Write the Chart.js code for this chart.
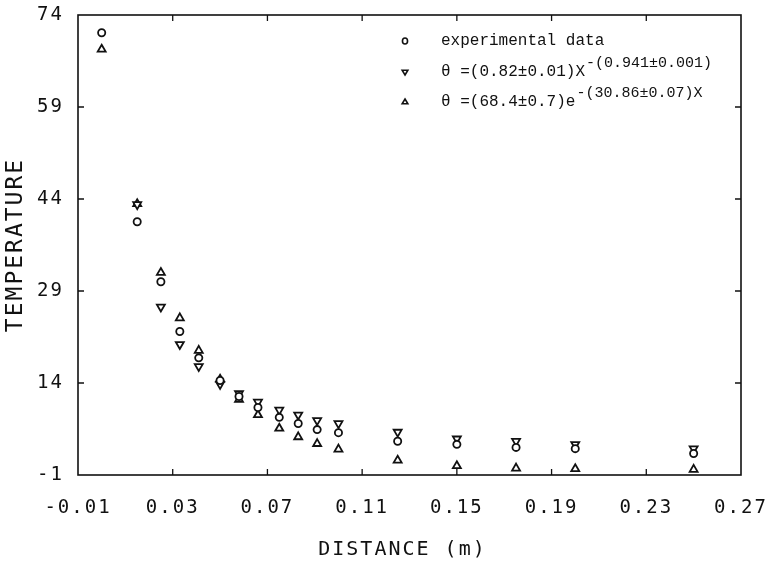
<!DOCTYPE html>
<html><head><meta charset="utf-8">
<script src="https://cdn.jsdelivr.net/npm/chart.js@4.4.1/dist/chart.umd.min.js"></script>
<style>html,body{margin:0;padding:0;background:#fff}#wrap{width:772px;height:561px;position:relative}canvas{display:block}</style>
</head><body><div id="wrap"><canvas id="c" width="772" height="561" style="width:772px;height:561px"></canvas></div>
<script>
const distance = [0, 0.015, 0.025, 0.033, 0.041, 0.05, 0.058, 0.066, 0.075, 0.083, 0.091, 0.1, 0.125, 0.15, 0.175, 0.2, 0.25];
const experimental = [71.1, 40.3, 30.5, 22.4, 18.1, 14.4, 11.8, 10.0, 8.4, 7.4, 6.4, 5.9, 4.5, 4.0, 3.5, 3.3, 2.5];
const powerFit = [null, 43.1, 26.4, 20.3, 16.7, 13.8, 12.3, 10.9, 9.6, 8.8, 7.9, 7.4, 6.0, 4.9, 4.5, 4.0, 3.3];
const expFit = [68.4, 43.2, 32.0, 24.6, 19.3, 14.6, 11.3, 8.8, 6.6, 5.2, 4.1, 3.2, 1.4, 0.5, 0.1, 0.0, -0.1];
const xTicks = [-0.01, 0.03, 0.07, 0.11, 0.15, 0.19, 0.23, 0.27];
const yTicks = [-1, 14, 29, 44, 59, 74];
const legendMain = ["experimental data", "\u03b8 =(0.82\u00b10.01)X", "\u03b8 =(68.4\u00b10.7)e"];
const legendSup = ["", "-(0.941\u00b10.001)", "-(30.86\u00b10.07)X"];

function pts(ys){ return distance.map((x,i)=>({x:x,y:ys[i]})).filter(p=>p.y!==null); }

function drawMarker(ctx, kind, x, y, r){
  ctx.beginPath();
  if(kind==='circle'){ ctx.ellipse(x,y,r*0.85,r,0,0,Math.PI*2); }
  else {
    const s = kind==='up' ? 1 : -1;
    ctx.moveTo(x, y - s*r);
    ctx.lineTo(x + r*0.95, y + s*r*0.6);
    ctx.lineTo(x - r*0.95, y + s*r*0.6);
    ctx.closePath();
  }
  ctx.stroke();
}
function noPad(s){ s.paddingTop = 0; s.paddingBottom = 0; s.paddingLeft = 0; s.paddingRight = 0; }

const framePlugin = {
  id:'frame',
  beforeDraw(chart){
    chart.ctx.letterSpacing = '2px';
  },
  beforeDatasetsDraw(chart){
    const {ctx, chartArea:a, scales} = chart;
    ctx.letterSpacing = '0px';
    ctx.save();
    ctx.strokeStyle = '#111';
    ctx.lineWidth = 1.6;
    ctx.strokeRect(a.left, a.top, a.right-a.left, a.bottom-a.top);
    const L = 6;
    ctx.lineWidth = 1.3;
    ctx.beginPath();
    xTicks.forEach(v=>{
      const px = scales.x.getPixelForValue(v);
      if(px<=a.left+1 || px>=a.right-1) return;
      ctx.moveTo(px,a.bottom); ctx.lineTo(px,a.bottom-L);
      ctx.moveTo(px,a.top); ctx.lineTo(px,a.top+L);
    });
    yTicks.forEach(v=>{
      const py = scales.y.getPixelForValue(v);
      if(py<=a.top+1 || py>=a.bottom-1) return;
      ctx.moveTo(a.left,py); ctx.lineTo(a.left+L,py);
      ctx.moveTo(a.right,py); ctx.lineTo(a.right-L,py);
    });
    ctx.stroke();
    ctx.restore();
  },
  afterDatasetsDraw(chart){
    const {ctx} = chart;
    ctx.save();
    ctx.strokeStyle = '#111';
    ctx.lineWidth = 1.6;
    const kinds = ['circle','down','up'];
    const rows = [41, 72, 102];
    const mx = 405, tx = 441;
    ctx.fillStyle = '#111';
    ctx.textBaseline = 'middle';
    ctx.textAlign = 'left';
    rows.forEach((ry,i)=>{
      drawMarker(ctx, kinds[i], mx, ry, 3);
      ctx.font = '16px "Liberation Mono"';
      ctx.fillText(legendMain[i], tx, ry);
      const w = ctx.measureText(legendMain[i]).width;
      if(legendSup[i]){
        ctx.font = '15px "Liberation Mono"';
        ctx.fillText(legendSup[i], tx + w + 1, ry - 9);
      }
    });
    ctx.restore();
  }
};

const common = {showLine:false, borderColor:'#111', backgroundColor:'#fff', borderWidth:1.8};
new Chart(document.getElementById('c'), {
  type:'scatter',
  data:{datasets:[
    Object.assign({label:'experimental data', data:pts(experimental), pointStyle:'circle', pointRadius:3.6}, common),
    Object.assign({label:'power fit', data:pts(powerFit), pointStyle:'triangle', rotation:180, pointRadius:4.6}, common),
    Object.assign({label:'exponential fit', data:pts(expFit), pointStyle:'triangle', pointRadius:4.6}, common)
  ]},
  options:{
    responsive:false, animation:false, maintainAspectRatio:false, devicePixelRatio:1,
    layout:{padding:{top:15,right:31,left:0,bottom:0}},
    plugins:{legend:{display:false}, tooltip:{enabled:false}},
    scales:{
      x:{type:'linear', min:-0.01, max:0.27,
        afterBuildTicks(s){ s.ticks = xTicks.map(v=>({value:v})); },
        afterFit(s){ s.height = 86; noPad(s); },
        grid:{display:false, drawTicks:false}, border:{display:false},
        ticks:{autoSkip:false, maxRotation:0, padding:22, color:'#111',
          font:{family:'"DejaVu Sans Mono"', size:19},
          callback:v=>Number(v).toFixed(2)},
        title:{display:true, text:'DISTANCE (m) ', color:'#111',
          font:{family:'"DejaVu Sans Mono"', size:20, lineHeight:1}, padding:{top:0,bottom:1}}
      },
      y:{type:'linear', min:-1, max:74,
        afterBuildTicks(s){ s.ticks = yTicks.map(v=>({value:v})); },
        afterFit(s){ s.width = 78; noPad(s); },
        grid:{display:false, drawTicks:false}, border:{display:false},
        ticks:{autoSkip:false, padding:14, color:'#111',
          font:{family:'"DejaVu Sans Mono"', size:19}},
        title:{display:true, text:'TEMPERATURE', color:'#111',
          font:{family:'"DejaVu Sans Mono"', size:23, lineHeight:1}, padding:{top:4.5,bottom:0}}
      }
    }
  },
  plugins:[framePlugin]
});
</script></body></html>
